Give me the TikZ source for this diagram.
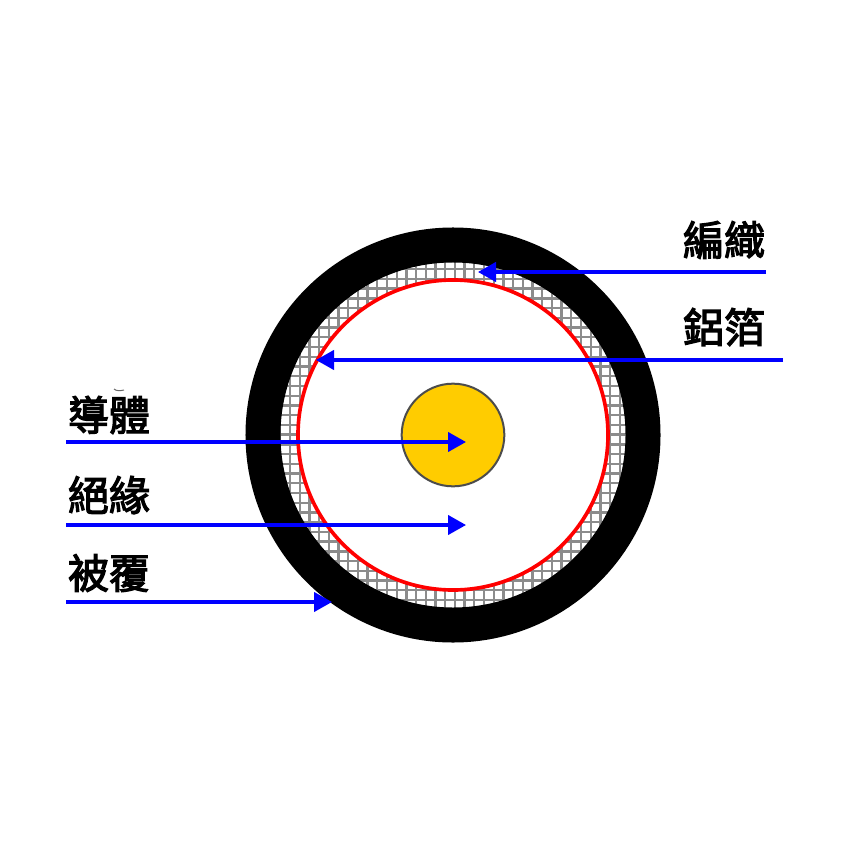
\documentclass[tikz,border=0pt]{standalone}
\usepackage{fontspec}
\newfontfamily\cjk{Noto Sans CJK TC}[FakeBold=3]
\usetikzlibrary{arrows.meta}
\definecolor{coreyellow}{RGB}{255,204,0}
\begin{document}
\begin{tikzpicture}[x=0.03cm,y=-0.03cm,
    ring/.style={shape=circle,inner sep=0,anchor=center},
    mesh/.style={draw=gray!90,line width=0.07cm},
    lead/.style={draw=blue,line width=0.095cm,-{Triangle[length=0.54cm,width=0.58cm]}},
    tag/.style={inner sep=0,font=\cjk\fontsize{35}{35}\selectfont}]
    \useasboundingbox (0,0) rectangle (850,850);
    % braid mesh
    \begin{scope}
        \clip (453,435) circle [radius=190];
        \foreach \i in {0,...,40}{%
            \pgfmathsetmacro\posx{251.2+\i*9.7}
            \pgfmathsetmacro\posy{240+\i*9.73}
            \draw[mesh] (\posx,240) -- (\posx,630);
            \draw[mesh] (250,\posy) -- (660,\posy);}
    \end{scope}
    % cable layers
    \node[ring,draw=black,line width=1.05cm,minimum size=11.4cm] (jacket) at (453,435) {};
    \node[ring,draw=red,fill=white,line width=0.11cm,minimum size=9.3cm] (foil) at (453,435) {};
    \node[ring,draw=black!70,fill=coreyellow,line width=0.06cm,minimum size=3.08cm] (core) at (453,435) {};
    % labels
    \node[tag] (lbraid) at (724,240) {編織};
    \node[tag] (lfoil) at (724,327) {鋁箔};
    \node[tag] (lcore) at (109,415) {導體};
    \node[tag] (linsul) at (109,495) {絕緣};
    \node[tag] (ljacket) at (109,573) {被覆};
    \draw[black!60,line width=0.03cm] (114,389) .. controls (116,391) and (120,391) .. (124,390);
    % arrow ends
    \coordinate (sbraid) at (766,272);
    \coordinate (tbraid) at (478,272);
    \coordinate (sfoil) at (783,360);
    \coordinate (tfoil) at (316,360);
    \coordinate (score) at (66,442);
    \coordinate (tcore) at (466,442);
    \coordinate (sinsul) at (66,525);
    \coordinate (tinsul) at (466,525);
    \coordinate (sjacket) at (66,602);
    \coordinate (tjacket) at (332,602);
    \foreach \n in {braid,foil,core,insul,jacket}{%
        \draw[lead] (s\n) -- (t\n);}
\end{tikzpicture}
\end{document}
